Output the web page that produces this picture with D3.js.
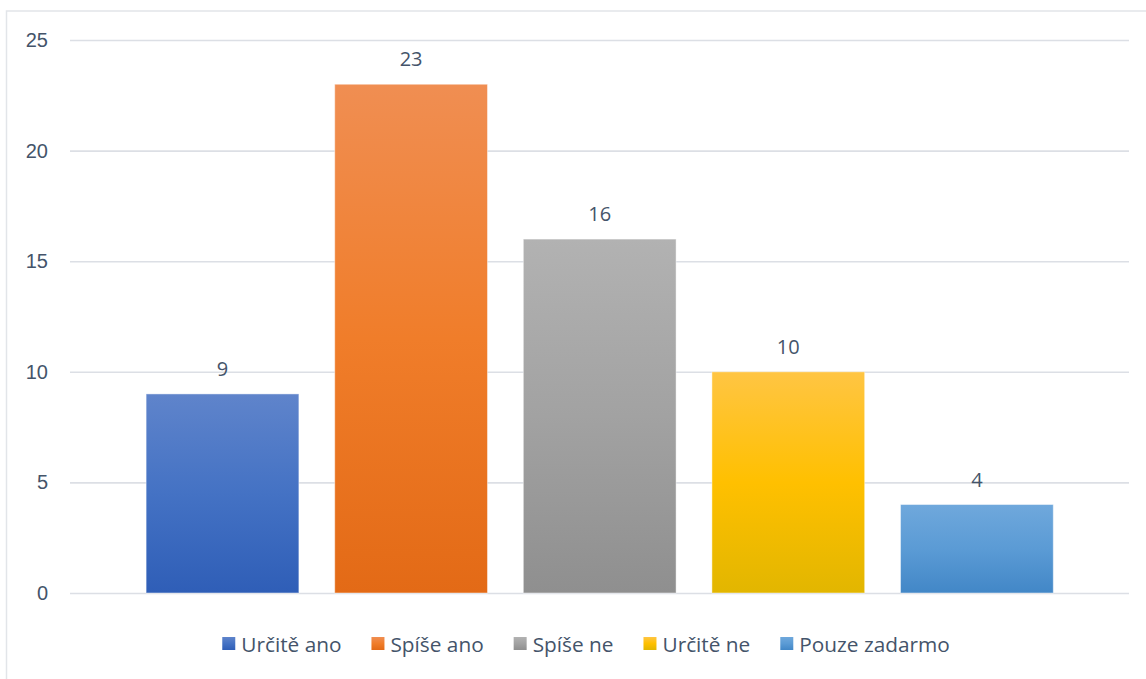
<!DOCTYPE html>
<html>
<head>
<meta charset="utf-8" />
<title>Chart</title>
<style>
  html, body { margin: 0; background: #fff; }
  svg { display: block; font-family: "Open Sans", sans-serif; }
  .grid line { stroke: #dcdfe5; stroke-width: 1.6px; }
  .grid .domain { display: none; }
  .ylab text { fill: #44546a; font-size: 20px; }
  .ylab .domain, .ylab line { display: none; }
  .val { fill: #44546a; font-size: 20px; text-anchor: middle; }
  .leg text { fill: #44546a; font-size: 20.8px; }
</style>
</head>
<body>
<div id="container"></div>
<script src="https://cdn.jsdelivr.net/npm/d3@7"></script>
<script>
var categories = ["Určitě ano", "Spíše ano", "Spíše ne", "Určitě ne", "Pouze zadarmo"];
var values = [9, 23, 16, 10, 4];
var yTicks = [0, 5, 10, 15, 20, 25];
// top, middle, bottom of each bar's gradient
var colorsTop = ["#5f84cb", "#f08e52", "#b2b2b2", "#ffc543", "#6fa8dc"];
var colorsMid = ["#4472c4", "#f07d2a", "#a2a2a2", "#ffc000", "#5b9bd5"];
var colorsBot = ["#2f5eb7", "#e36a16", "#8f8f8f", "#e2b600", "#4287c7"];

var width = 1146, height = 679;

var svg = d3.select("#container").append("svg")
    .attr("width", width)
    .attr("height", height);

// outer chart frame
svg.append("rect")
    .attr("x", 6.5).attr("y", 11)
    .attr("width", width + 10).attr("height", height + 10)
    .attr("fill", "none")
    .attr("stroke", "#e2e5e9")
    .attr("stroke-width", 1.5);

var defs = svg.append("defs");
categories.forEach(function(c, i) {
  var g = defs.append("linearGradient")
      .attr("id", "grad" + i)
      .attr("x1", 0).attr("y1", 0).attr("x2", 0).attr("y2", 1);
  g.append("stop").attr("offset", "0%").attr("stop-color", colorsTop[i]);
  g.append("stop").attr("offset", "50%").attr("stop-color", colorsMid[i]);
  g.append("stop").attr("offset", "100%").attr("stop-color", colorsBot[i]);
});

var y = d3.scaleLinear()
    .domain([0, 25])
    .range([593, 40]);

var x = d3.scaleBand()
    .domain(categories)
    .range([128.2, 1071.2])
    .paddingInner(0.19)
    .paddingOuter(0.095);

// gridlines
svg.append("g")
    .attr("class", "grid")
    .attr("transform", "translate(70,0)")
    .call(d3.axisLeft(y).tickValues(yTicks).tickSize(-1059).tickFormat(""));

// y labels
svg.append("g")
    .attr("class", "ylab")
    .attr("transform", "translate(48,0)")
    .call(d3.axisLeft(y).tickValues(yTicks).tickSize(0).tickPadding(0));

svg.selectAll(".bar")
    .data(values)
    .enter().append("rect")
    .attr("class", "bar")
    .attr("x", function(d, i) { return x(categories[i]); })
    .attr("y", function(d) { return y(d); })
    .attr("width", x.bandwidth())
    .attr("height", function(d) { return y(0) - y(d); })
    .attr("fill", function(d, i) { return "url(#grad" + i + ")"; })
    .attr("stroke", "rgba(255,255,255,0.45)")
    .attr("stroke-width", 1);

svg.selectAll(".val")
    .data(values)
    .enter().append("text")
    .attr("class", "val")
    .attr("x", function(d, i) { return x(categories[i]) + x.bandwidth() / 2; })
    .attr("y", function(d) { return y(d) - 18; })
    .text(function(d) { return d; });

// legend, laid out from measured text widths and centred
var leg = svg.append("g").attr("class", "leg");
var items = leg.selectAll("g")
    .data(categories)
    .enter().append("g");
items.append("rect")
    .attr("width", 13).attr("height", 13)
    .attr("y", 637)
    .attr("fill", function(d, i) { return "url(#grad" + i + ")"; });
items.append("text")
    .attr("x", 19)
    .attr("y", 651.5)
    .text(function(d) { return d; });

var pos = 0, offsets = [];
items.each(function() {
  offsets.push(pos);
  pos += 19 + this.querySelector("text").getComputedTextLength() + 30;
});
var total = pos - 30;
var start = 586 - total / 2;
items.attr("transform", function(d, i) { return "translate(" + (start + offsets[i]) + ",0)"; });
</script>
</body>
</html>
